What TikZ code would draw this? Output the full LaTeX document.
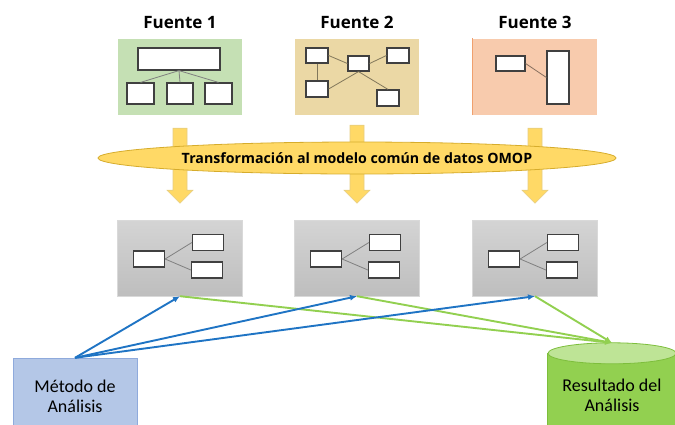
\documentclass[tikz,border=0pt]{standalone}
\usepackage{fontspec}
\setmainfont{Carlito}
\newfontfamily\titulofont{Open Sans}
\usetikzlibrary{shapes.geometric, arrows.meta, positioning, calc, backgrounds}
\definecolor{verdeFuente}{RGB}{197, 224, 180}
\definecolor{ocreFuente}{RGB}{235, 216, 165}
\definecolor{salmonFuente}{RGB}{248, 203, 173}
\definecolor{salmonBorde}{RGB}{240, 160, 110}
\definecolor{amarilloOMOP}{RGB}{255, 217, 102}
\definecolor{amarilloBorde}{RGB}{214, 172, 44}
\definecolor{grisClaro}{RGB}{212, 212, 212}
\definecolor{grisOscuro}{RGB}{190, 190, 190}
\definecolor{azulMetodo}{RGB}{180, 199, 231}
\definecolor{azulBorde}{RGB}{143, 170, 220}
\definecolor{azulFlecha}{RGB}{31, 116, 196}
\definecolor{verdeFlecha}{RGB}{146, 208, 80}
\definecolor{verdeTapa}{RGB}{190, 228, 150}
\definecolor{verdeBorde}{RGB}{125, 190, 60}

\begin{document}
\begin{tikzpicture}[x=1pt, y=-1pt,
        fuente/.style={rectangle, draw=white, minimum width=125pt, minimum height=77pt},
        titulo/.style={inner sep=0pt, font=\titulofont\bfseries\fontsize{17}{20}\selectfont},
        tabla/.style={rectangle, fill=white, draw=black!75, line width=1.2pt, inner sep=0pt},
        enlace/.style={draw=black!50, line width=0.8pt},
        cdm/.style={rectangle, top color=grisClaro, bottom color=grisOscuro, draw=black!15, minimum width=125pt, minimum height=76pt},
        bloque/.style={fill=amarilloOMOP, draw=amarilloBorde!60, line width=0.6pt},
        etiqueta/.style={align=center, font=\fontsize{18}{20}\selectfont, inner sep=0pt},
        metodo/.style={azulFlecha, line width=1.9pt, -{Latex[length=7pt, width=6pt]}},
        resultado/.style={verdeFlecha, line width=1.9pt, -{Latex[length=7pt, width=6pt]}}]
    \useasboundingbox (0,0) rectangle (675,424);

    % fuentes de datos
    \node[fuente, fill=verdeFuente] (f1) at (180,76.5) {};
    \node[fuente, fill=ocreFuente] (f2) at (357,76.5) {};
    \node[fuente, fill=salmonFuente] (f3) at (535,76.5) {};
    \draw[salmonBorde, line width=1pt] (f3.south west) -- (f3.north west);
    \node[titulo, above=9pt of f1] (t1) {Fuente 1};
    \node[titulo, above=9pt of f2] (t2) {Fuente 2};
    \node[titulo, above=9pt of f3] (t3) {Fuente 3};

    % fuente 1: jerarquia
    \node[tabla, minimum width=82pt, minimum height=22pt] (f1a) at (179,59) {};
    \node[tabla, minimum width=27pt, minimum height=21pt] (f1b) at (140.5,93.5) {};
    \node[tabla, minimum width=26pt, minimum height=21pt] (f1c) at (180,93.5) {};
    \node[tabla, minimum width=27pt, minimum height=21pt] (f1d) at (218.5,93.5) {};
    \draw[enlace] (f1a.south) -- (f1b.north);
    \draw[enlace] (f1a.south) -- (f1c.north);
    \draw[enlace] (f1a.south) -- (f1d.north);

    % fuente 2: red
    \node[tabla, minimum width=22pt, minimum height=15pt] (f2a) at (317,55.5) {};
    \node[tabla, minimum width=21pt, minimum height=15pt] (f2b) at (358.5,63.5) {};
    \node[tabla, minimum width=22pt, minimum height=15pt] (f2c) at (398,55.5) {};
    \node[tabla, minimum width=22pt, minimum height=16pt] (f2d) at (317,89) {};
    \node[tabla, minimum width=22pt, minimum height=16pt] (f2e) at (388,98) {};
    \draw[enlace, draw=black!45!ocreFuente] (f2a.east) -- (f2b.west);
    \draw[enlace, draw=black!45!ocreFuente] (f2b.east) -- (f2c.west);
    \draw[enlace, draw=black!45!ocreFuente] (f2a.south) -- (f2d.north);
    \draw[enlace, draw=black!45!ocreFuente] (f2b.south) -- (f2d.east);
    \draw[enlace, draw=black!45!ocreFuente] (f2b.south) -- (f2e.north);

    % fuente 3
    \node[tabla, minimum width=29pt, minimum height=15pt] (f3a) at (510.5,63.5) {};
    \node[tabla, minimum width=22pt, minimum height=53pt] (f3b) at (558,77.5) {};
    \draw[enlace, draw=black!45!salmonFuente] (f3a.east) -- (f3b.west);

    % modelo comun
    \node[cdm] (c1) at (180,258) {};
    \node[cdm] (c2) at (357,258) {};
    \node[cdm] (c3) at (535,258) {};
    \node[tabla, minimum width=31pt, minimum height=16pt] (c1a) at ($(c1)+(-31,1)$) {};
    \node[tabla, minimum width=31pt, minimum height=16pt] (c1b) at ($(c1)+(28,-15.5)$) {};
    \node[tabla, minimum width=31pt, minimum height=16pt] (c1c) at ($(c1)+(27,12)$) {};
    \node[tabla, minimum width=31pt, minimum height=16pt] (c2a) at ($(c2)+(-31,1)$) {};
    \node[tabla, minimum width=31pt, minimum height=16pt] (c2b) at ($(c2)+(28,-15.5)$) {};
    \node[tabla, minimum width=31pt, minimum height=16pt] (c2c) at ($(c2)+(27,12)$) {};
    \node[tabla, minimum width=31pt, minimum height=16pt] (c3a) at ($(c3)+(-31,1)$) {};
    \node[tabla, minimum width=31pt, minimum height=16pt] (c3b) at ($(c3)+(28,-15.5)$) {};
    \node[tabla, minimum width=31pt, minimum height=16pt] (c3c) at ($(c3)+(27,12)$) {};
    \draw[enlace] (c1a.east) -- (c1b.west);
    \draw[enlace] (c1a.east) -- (c1c.west);
    \draw[enlace] (c2a.east) -- (c2b.west);
    \draw[enlace] (c2a.east) -- (c2c.west);
    \draw[enlace] (c3a.east) -- (c3b.west);
    \draw[enlace] (c3a.east) -- (c3c.west);

    % flechas de transformacion
    \filldraw[bloque] ($(f1.south)+(-7,13)$) -- ++(14,0) -- ++(0,62) -- ++(6,0) -- ++(-13,13) -- ++(-13,-13) -- ++(6,0) -- cycle;
    \filldraw[bloque] ($(f2.south)+(-7,10)$) -- ++(14,0) -- ++(0,65) -- ++(6,0) -- ++(-13,13) -- ++(-13,-13) -- ++(6,0) -- cycle;
    \filldraw[bloque] ($(f3.south)+(-7,13)$) -- ++(14,0) -- ++(0,62) -- ++(6,0) -- ++(-13,13) -- ++(-13,-13) -- ++(6,0) -- cycle;
    \node[ellipse, fill=amarilloOMOP, draw=amarilloBorde, line width=0.8pt, minimum width=518pt, minimum height=32pt, inner sep=0pt,
        font=\titulofont\bfseries\fontsize{14.2}{16}\selectfont] (omop) at (357,158) {Transformación al modelo común de datos OMOP};

    % metodo y resultado
    \node[etiqueta, fill=azulMetodo, draw=azulBorde, minimum width=124pt, minimum height=77pt] (met) at (75,396.5) {Método de\\Análisis};
    \node[etiqueta, minimum width=128pt, minimum height=105pt] (res) at (612,395.5) {Resultado del\\Análisis};
    \begin{scope}[on background layer]
        \fill[verdeFlecha] ($(res.north west)+(0,10.5)$) rectangle (res.south east);
        \draw[verdeBorde, line width=0.8pt] ($(res.north west)+(0,10.5)$) -- (res.south west);
        \filldraw[fill=verdeTapa, draw=verdeBorde, line width=0.8pt] ($(res.north)+(0,10.5)$) ellipse [x radius=64, y radius=10.5];
    \end{scope}

    \draw[resultado] (c1.south) -- (res.north);
    \draw[resultado] (c2.south) -- (res.north);
    \draw[resultado] (c3.south) -- (res.north);
    \draw[metodo] (met.north) -- (c1.south);
    \draw[metodo] (met.north) -- (c2.south);
    \draw[metodo] (met.north) -- (c3.south);
\end{tikzpicture}
\end{document}
